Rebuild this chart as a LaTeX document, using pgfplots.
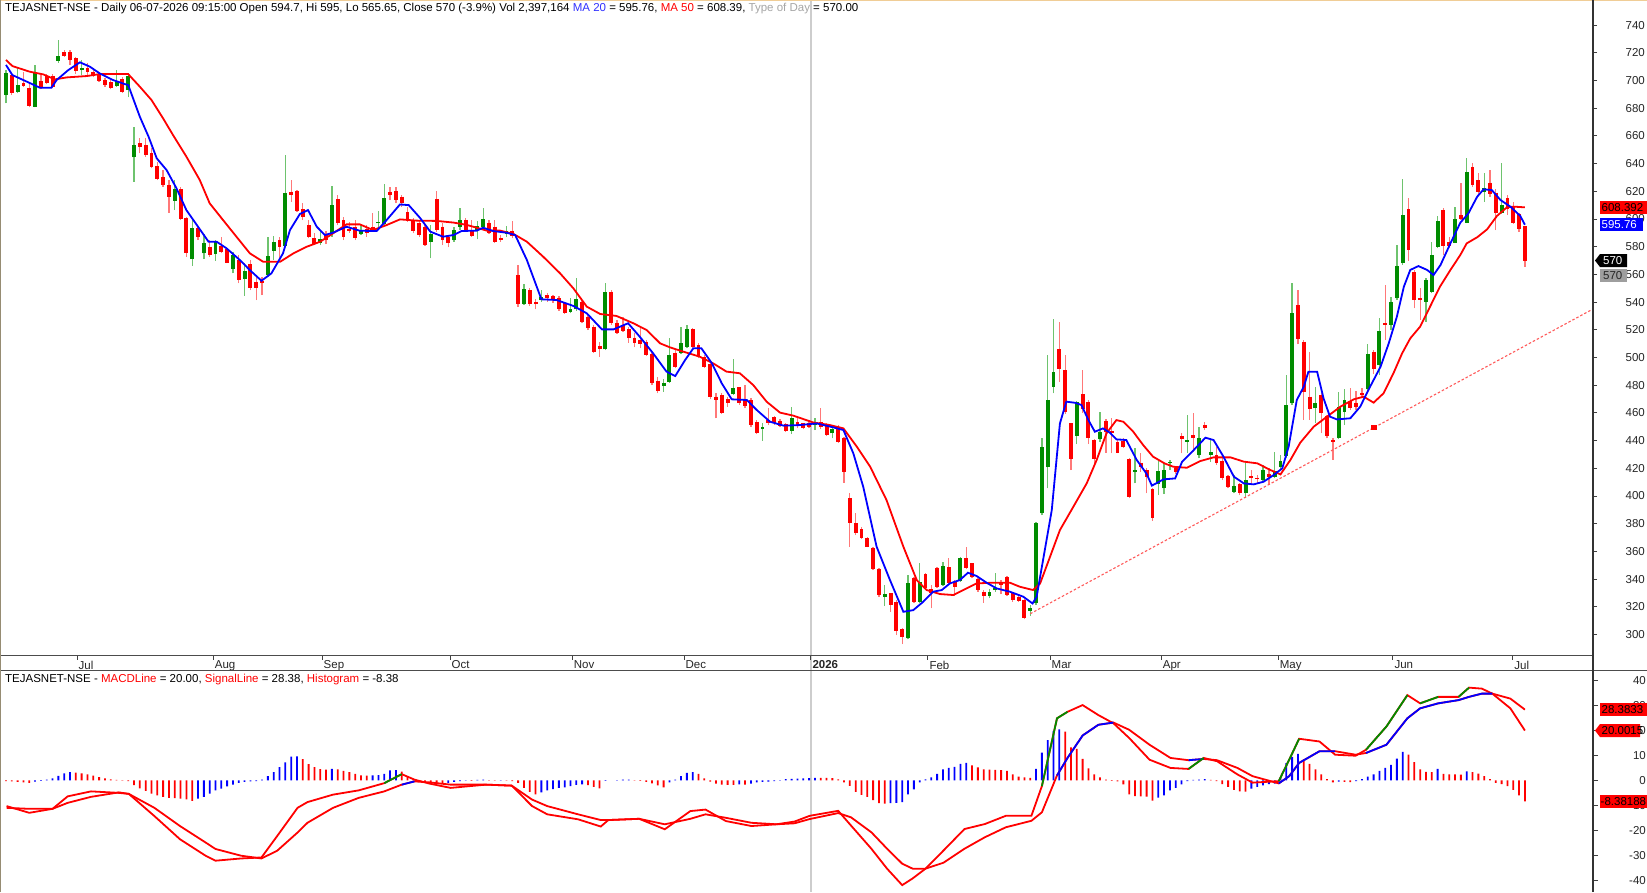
\documentclass[border=0pt]{standalone}
\usepackage{fontspec}
\setmainfont{Liberation Sans}
\usepackage{pgfplots}
\usepackage{pgfplotstable}
\pgfplotsset{compat=1.18}

\definecolor{cgreen}{RGB}{0,140,0}
\definecolor{cred}{RGB}{255,0,0}
\definecolor{wgreen}{RGB}{110,195,110}
\definecolor{wred}{RGB}{255,120,120}
\definecolor{mablue}{RGB}{0,0,255}
\definecolor{tblue}{RGB}{50,50,255}
\definecolor{frameL}{RGB}{150,140,115}
\definecolor{frameT}{RGB}{240,205,150}
\definecolor{sepgray}{RGB}{205,205,205}
\definecolor{trend}{RGB}{255,90,90}

\newcommand\tfont{\fontsize{11.5}{12}\selectfont}

\pgfplotsset{
  base/.style={scale only axis, width=1593pt, xmin=-1.03, xmax=272.7,
    axis line style={draw=none}, tick align=outside, major tick length=5pt,
    tick style={black!75, line width=0.8pt},
    ytick pos=right, yticklabel pos=right,
    yticklabel style={anchor=east, inner sep=0pt, xshift=48pt, font=\tfont, text=black!85},
    /pgf/number format/assume math mode=true, scaled y ticks=false,
    clip mode=individual},
}

\pgfplotstableread{
i o h l c g
0 689.5 707.5 683.5 705.1 1
1 704.0 705.0 689.5 690.7 0
2 692.0 710.0 690.7 696.7 1
3 698.4 706.3 695.5 696.2 0
4 694.8 698.0 680.5 681.5 0
5 681.0 711.0 680.5 705.8 1
6 699.6 704.0 693.6 694.8 0
7 703.4 705.0 697.2 698.4 0
8 703.4 705.0 694.3 695.0 0
9 714.3 729.0 712.8 717.6 1
10 720.3 722.0 717.0 717.6 0
11 720.3 722.0 711.0 714.8 0
12 716.0 717.0 705.0 707.0 0
13 707.5 714.8 704.0 708.7 1
14 708.7 712.3 704.0 706.3 0
15 706.3 708.7 702.7 704.0 0
16 705.0 706.3 699.0 699.8 0
17 700.3 701.5 695.5 696.7 0
18 699.0 700.3 693.6 694.3 0
19 696.0 707.5 695.5 699.8 1
20 700.8 702.7 691.2 691.9 0
21 693.1 705.1 687.8 703.2 1
22 644.5 666.6 626.9 653.4 1
23 654.6 658.7 647.4 651.7 0
24 653.4 658.2 645.0 646.2 0
25 647.4 651.0 636.5 637.7 0
26 638.2 641.3 628.1 628.6 0
27 630.0 635.3 623.3 624.5 0
28 624.5 628.1 604.5 616.1 0
29 613.2 628.1 606.4 621.4 1
30 621.4 623.3 599.2 599.7 0
31 600.9 601.6 572.8 575.2 0
32 571.1 599.2 566.2 593.2 1
33 593.2 594.9 584.8 586.7 0
34 575.2 589.1 571.1 582.9 1
35 580.0 584.8 572.8 574.0 0
36 574.7 584.8 569.9 583.6 1
37 580.4 586.7 575.2 576.4 0
38 578.0 578.8 567.9 568.4 0
39 564.0 576.4 560.7 573.9 1
40 570.3 573.9 553.5 555.9 0
41 556.9 567.9 544.6 562.6 1
42 567.4 570.3 548.7 549.9 0
43 554.7 557.8 541.5 549.9 0
44 555.4 557.8 545.0 554.0 0
45 559.5 587.2 557.8 573.2 1
46 577.1 587.7 570.3 583.6 1
47 584.8 587.2 571.5 579.5 0
48 580.4 646.2 580.0 619.0 1
49 619.7 628.1 612.5 617.3 0
50 620.4 620.9 605.2 606.0 0
51 606.9 611.7 599.2 601.1 0
52 595.6 599.2 586.0 587.2 0
53 586.0 589.6 581.2 581.9 0
54 582.9 592.0 581.2 585.3 1
55 589.1 591.5 581.9 584.8 0
56 589.1 623.8 587.2 610.0 1
57 614.1 617.3 595.6 596.8 0
58 599.2 601.6 584.8 587.2 0
59 592.5 598.0 590.1 591.5 0
60 594.4 599.2 584.8 586.0 0
61 589.1 595.6 588.4 591.5 1
62 592.5 595.6 587.2 589.6 0
63 594.4 604.0 590.8 592.0 0
64 596.8 605.9 594.4 597.6 1
65 596.3 625.2 595.6 614.9 1
66 619.7 623.3 613.7 617.3 0
67 620.4 623.3 611.3 613.7 0
68 616.1 617.3 608.9 611.3 0
69 605.2 608.9 598.0 599.2 0
70 599.2 600.4 589.6 591.2 0
71 596.9 599.3 587.2 588.4 0
72 594.5 595.7 580.5 581.2 0
73 583.6 595.7 571.6 589.2 1
74 614.2 620.5 590.9 592.1 0
75 594.5 596.9 581.2 584.8 0
76 586.8 588.4 579.5 582.9 0
77 584.8 594.5 583.6 592.1 1
78 594.5 608.2 592.1 599.3 1
79 599.3 600.5 590.9 591.6 0
80 592.1 599.3 587.2 587.7 0
81 592.1 598.6 585.3 595.0 1
82 594.0 607.7 593.3 599.8 1
83 597.4 599.3 589.2 590.1 0
84 594.5 599.3 582.9 583.6 0
85 586.3 588.4 583.6 584.8 0
86 589.2 594.9 586.8 591.3 1
87 591.6 598.6 586.0 587.7 0
88 559.6 566.8 536.7 538.6 0
89 538.6 552.8 537.9 549.2 1
90 548.7 549.9 537.2 538.4 0
91 540.3 542.0 534.8 538.4 0
92 541.5 548.7 540.3 543.4 1
93 545.1 546.3 540.3 542.7 0
94 544.4 545.1 539.6 542.0 0
95 542.7 544.4 533.8 534.8 0
96 539.1 540.3 531.4 531.9 0
97 533.1 542.7 531.9 535.3 1
98 534.8 557.1 533.8 542.0 1
99 540.3 541.5 524.7 525.9 0
100 529.5 530.7 519.8 521.0 0
101 522.3 523.5 503.5 504.2 0
102 508.3 511.4 500.6 505.9 0
103 505.9 554.0 505.4 547.5 1
104 547.5 548.7 523.5 524.7 0
105 525.1 527.1 517.0 517.4 0
106 523.5 529.5 518.6 519.4 0
107 520.3 522.3 510.7 513.8 0
108 514.3 517.4 507.3 510.7 0
109 512.6 522.3 506.6 509.7 0
110 511.4 512.6 501.1 501.8 0
111 502.5 504.2 480.1 481.3 0
112 483.3 486.1 474.1 476.0 0
113 479.4 484.2 475.3 481.3 1
114 482.5 513.8 481.8 501.8 1
115 503.5 505.9 492.2 493.4 0
116 503.5 521.8 502.5 510.2 1
117 507.8 523.5 506.6 520.3 1
118 520.3 521.1 506.6 507.8 0
119 509.0 510.2 499.4 500.6 0
120 500.6 501.8 492.2 493.4 0
121 495.3 498.2 469.8 471.2 0
122 471.7 474.1 456.1 469.3 0
123 472.9 474.1 459.2 460.2 0
124 469.8 471.2 464.5 467.4 0
125 473.4 498.7 472.9 477.7 1
126 478.4 478.9 465.7 466.9 0
127 469.3 480.1 463.3 465.0 0
128 469.3 470.5 450.0 451.2 0
129 453.6 454.8 444.7 445.7 0
130 448.1 452.4 440.0 450.0 1
131 454.9 463.3 451.2 452.4 0
132 456.8 457.8 451.2 452.9 0
133 454.1 455.3 449.6 450.8 0
134 451.7 452.4 446.4 447.1 0
135 447.1 464.0 444.7 456.1 1
136 453.6 456.1 448.8 450.8 0
137 452.4 452.9 448.1 448.8 0
138 452.4 454.8 448.8 450.0 0
139 451.2 456.1 447.6 453.6 1
140 453.1 463.3 448.1 449.5 0
141 451.2 452.4 443.3 444.0 0
142 445.2 451.2 441.6 448.1 1
143 450.0 451.2 438.5 439.2 0
144 441.6 442.8 409.6 417.5 0
145 398.3 401.9 363.4 380.2 0
146 380.2 387.4 371.8 373.0 0
147 375.9 377.3 368.7 369.4 0
148 369.4 370.6 362.9 363.4 0
149 362.2 363.4 346.5 347.0 0
150 347.0 347.7 327.3 328.5 0
151 327.3 335.7 320.5 329.2 1
152 329.7 330.1 316.4 321.2 0
153 323.6 324.8 299.6 302.7 0
154 303.7 304.4 293.1 298.4 0
155 297.2 342.9 296.5 337.4 1
156 340.5 341.7 322.9 323.6 0
157 323.6 351.8 322.4 338.1 1
158 343.6 344.1 332.1 333.3 0
159 332.5 336.0 318.8 330.0 0
160 348.2 348.9 333.8 334.5 0
161 335.7 352.5 335.0 349.4 1
162 348.4 354.9 336.4 337.4 0
163 338.1 339.3 327.7 334.5 0
164 338.6 356.1 338.1 355.4 1
165 355.4 363.4 347.0 347.7 0
166 351.3 351.8 340.5 341.2 0
167 339.8 340.5 330.9 332.1 0
168 330.9 332.1 322.9 327.7 0
169 327.7 332.6 326.0 330.9 1
170 332.1 344.6 330.9 333.4 1
171 337.4 339.3 329.2 335.7 0
172 341.2 342.2 327.7 328.5 0
173 330.1 330.9 323.6 324.8 0
174 327.3 328.5 323.6 324.4 0
175 324.8 325.3 310.9 311.6 0
176 317.1 321.2 313.3 318.8 1
177 322.4 381.4 321.2 380.7 1
178 387.4 441.6 386.2 435.1 1
179 420.7 501.8 405.5 469.3 1
180 478.9 527.5 474.1 489.7 1
181 505.9 525.8 482.5 491.4 0
182 490.9 501.8 459.2 460.8 0
183 452.4 452.9 418.7 426.4 0
184 443.3 468.8 437.5 468.1 1
185 473.6 490.9 460.1 462.5 0
186 468.1 469.3 437.5 441.6 0
187 440.4 440.9 421.6 426.4 0
188 440.9 460.8 439.2 446.4 1
189 454.3 455.3 431.2 446.4 0
190 447.1 456.0 430.8 445.7 0
191 439.2 440.4 430.8 431.2 0
192 439.9 441.6 434.4 435.1 0
193 426.4 427.1 398.3 399.5 0
194 417.5 434.4 409.1 418.7 1
195 424.0 431.2 417.5 421.1 0
196 418.7 420.0 401.9 413.9 0
197 404.8 405.5 382.1 383.8 0
198 408.6 426.0 400.7 418.3 1
199 405.5 423.5 401.4 418.7 1
200 423.7 426.0 418.7 424.7 1
201 420.4 421.5 416.0 417.5 0
202 443.3 445.2 430.8 440.9 0
203 439.2 458.5 430.8 440.2 1
204 444.0 459.7 432.0 442.1 0
205 429.6 450.0 427.2 441.6 1
206 451.0 453.7 447.6 448.8 0
207 429.6 441.6 424.8 432.0 1
208 429.6 435.6 422.4 424.0 0
209 425.5 427.2 411.5 412.7 0
210 414.4 415.1 405.5 406.7 0
211 403.1 415.1 401.9 407.2 1
212 408.6 409.6 400.7 402.4 0
213 401.9 423.6 398.3 411.5 1
214 414.4 418.7 409.1 412.7 0
215 413.2 415.1 409.6 412.0 0
216 411.5 422.4 410.3 418.7 1
217 415.6 419.9 408.0 413.5 0
218 414.0 432.0 412.7 418.0 1
219 420.7 429.6 418.7 425.5 1
220 428.8 487.4 427.2 465.7 1
221 466.9 553.5 465.7 531.9 1
222 537.9 548.7 509.7 513.1 0
223 511.4 512.6 454.9 475.3 0
224 471.7 504.2 454.9 462.5 0
225 463.3 478.9 452.4 467.4 1
226 472.9 474.1 445.2 459.7 0
227 457.8 458.5 441.6 443.3 0
228 440.4 441.6 426.0 439.2 0
229 441.6 475.3 440.9 464.5 1
230 460.9 477.0 451.2 469.3 1
231 468.8 477.7 462.0 463.3 0
232 467.4 476.0 462.0 464.5 0
233 474.1 477.7 470.5 472.9 0
234 477.0 509.7 476.0 502.5 1
235 504.2 505.4 488.0 491.4 0
236 494.5 528.3 487.3 519.4 1
237 524.7 552.3 512.6 523.6 0
238 523.5 543.9 519.8 540.3 1
239 542.7 581.2 541.5 566.0 1
240 568.0 628.6 566.8 602.9 1
241 607.2 614.9 569.9 577.6 0
242 561.5 563.2 535.5 541.5 0
243 542.7 549.9 527.1 541.5 0
244 540.3 557.1 525.9 555.9 1
245 547.5 583.6 546.3 574.0 1
246 580.0 602.2 578.8 598.8 1
247 606.5 607.7 574.0 580.5 0
248 583.6 587.2 578.8 580.5 0
249 582.9 608.9 582.4 599.8 1
250 602.9 626.2 599.3 599.8 0
251 597.4 643.8 596.9 634.2 1
252 637.3 640.7 623.3 624.5 0
253 628.1 633.0 617.3 619.7 0
254 619.7 633.0 612.5 622.6 1
255 626.2 635.4 616.1 618.0 0
256 619.0 621.4 592.0 604.5 0
257 604.5 640.7 603.6 610.1 1
258 614.9 617.3 602.9 607.0 0
259 608.9 612.5 596.4 597.4 0
260 603.6 604.5 590.8 592.5 0
261 594.7 595.0 565.65 570.0 0
}\candles

\begin{document}
\begin{tikzpicture}[x=1pt,y=1pt]
\useasboundingbox (0,0) rectangle (1647,892);
\fill[white] (0,0) rectangle (1647,892);
% year separator
\draw[sepgray, line width=1.3pt] (811,0) -- (811,892);

% ================= PRICE PANEL =================
\begin{axis}[base, at={(0pt,236.3pt)}, anchor=south west, height=655.7pt,
  ymin=284.7, ymax=758.1, ytick={300,320,...,740},
  xtick={12.2,35.6,54.3,76.3,97.3,116.5,138.3,158.4,179.4,198.5,218.6,238.3,258.9},
  xticklabels={Jul,Aug,Sep,Oct,Nov,Dec,\textbf{2026},Feb,Mar,Apr,May,Jun,Jul},
  xtick pos=left, xticklabel pos=left,
  xticklabel style={anchor=north west, inner sep=0pt, xshift=1.5pt, yshift=-1pt, font=\tfont, text=black!85},
  major tick length=4pt]
% wicks (zero-length arrows for the other colour draw nothing)
\addplot[wgreen, line width=1.3pt, quiver={u=0, v=(\thisrow{h}-\thisrow{l})*\thisrow{g}}] table[x=i, y=l] {\candles};
\addplot[wred, line width=1.3pt, quiver={u=0, v=(\thisrow{h}-\thisrow{l})*(1-\thisrow{g})}] table[x=i, y=l] {\candles};
% bodies
\addplot[cgreen, line width=3.9pt, quiver={u=0, v=(\thisrow{c}-\thisrow{o})*\thisrow{g}}] table[x=i, y=o] {\candles};
\addplot[cred, line width=3.9pt, quiver={u=0, v=(\thisrow{c}-\thisrow{o})*(1-\thisrow{g})}] table[x=i, y=o] {\candles};

% trend line
\addplot[trend, line width=1.1pt, dash pattern=on 2.5pt off 2pt] coordinates {(176,315) (272.7,535)};
\addplot[only marks, mark=square*, mark size=2.2pt, cred] coordinates {(235,449.5)};

% MA 50 (red)
\addplot[cred, line width=1.8pt] coordinates {
(0,714.8)(1.1,710.4)(4.1,706.3)(6.4,704.4)(8.4,700.8)(10.4,702.2)(13.9,703.2)(16.1,704.6)(21,704.6)(23,695.5)(25,685.9)(27,672.6)(28.7,660.6)(31,645)(33.3,628.1)(35,611.3)(37.3,599.2)(39.6,587.2)(41.9,575.2)(44.2,569.1)(47.1,569.1)(49.4,575.2)(51.7,580)(54,583.6)(56.2,589.6)(58.5,596.1)(60.8,596.1)(63.1,592)(65.4,595.6)(67.7,599.7)(70.6,598.8)(74,598.6)(76.9,597.4)(79.2,595.7)(82.6,591.6)(84.9,591.6)(87.2,589.2)(89.5,583.6)(92.3,572.8)(95.2,560.8)(97.5,549.9)(99.8,536.7)(102.1,531.4)(104.9,530)(107.8,524.7)(110.1,519.8)(112.4,510.2)(114.1,507.3)(116.4,504.2)(119.2,500.6)(121.5,495.8)(123.8,489.8)(126.1,488.6)(128.4,480.1)(130.7,468.1)(133,460.2)(135.3,458)(138.7,453.1)(141.6,451.2)(143.9,448.8)(146.2,435.6)(148.5,421.1)(151.3,397.1)(154.2,363.4)(156.5,339.3)(158.2,332.1)(160.5,329.2)(162.8,328.5)(164.5,332.1)(166.8,336.9)(169.6,337.4)(172.5,337.4)(174.2,334.5)(176.5,332.1)(177.7,336.9)(179.4,356.1)(181.1,375.4)(183.4,392.2)(185.7,409.1)(187.4,425.9)(189.1,445.2)(190.8,454.8)(192,453.6)(193.7,446.4)(195.4,436.8)(197.1,428.4)(199.1,423.5)(200.6,421.1)(202.9,420.4)(205.2,425.2)(207.5,427.9)(210.4,427.9)(212.7,424.8)(215,423.6)(217.3,418.7)(219,415.6)(220.7,426)(222.4,438.5)(224.7,450)(227,457.3)(229.3,464.5)(231.6,469.8)(233.3,471.7)(235,467.4)(236.7,474.1)(238.4,488.5)(239.9,503)(241.3,513.8)(243,522.3)(244.7,536.7)(246.4,551.1)(248.2,563.2)(249.9,574)(251,582.4)(252.8,586.8)(254.5,592.5)(256.2,602.2)(257.9,608.4)(259.1,608.9)(261,608.4)};
% MA 20 (blue)
\addplot[mablue, line width=1.8pt] coordinates {
(0,711.2)(1.1,703.9)(3.6,699.1)(5.8,694.8)(7.8,694.8)(8.7,700.3)(10.7,707.5)(12.7,713.1)(14.4,710)(16.1,705.1)(18.4,700.3)(20.4,697.4)(21,696.7)(23,673.8)(24.5,659.4)(25.9,643.8)(27.6,635.3)(29.3,622.1)(31,606.4)(33,594.4)(34.8,583.6)(36.2,583.6)(37.9,578.8)(40.2,570.3)(41.9,563.1)(43.9,555.4)(45.6,560.7)(47.6,575.2)(48.8,592)(50.5,603.6)(51.9,606.4)(53.4,594.4)(54.8,588.4)(56.2,590.1)(58.5,594.4)(60.8,591.5)(63.7,591.3)(65.4,599.2)(67.7,610.5)(69.2,610)(71.1,601)(72.9,590.9)(75.1,587.2)(76.9,588.4)(78.3,591.3)(80.9,591.6)(82,593.7)(83.7,591.3)(86,590.1)(87.5,588.4)(89.5,570.4)(92,542)(94.6,541.5)(97.5,537.2)(99.8,531.9)(102.4,520.3)(104.4,520.3)(106.9,524.7)(108.9,515)(111.2,503)(113.5,489.8)(115,486.6)(116.7,498.2)(118.1,506.6)(119.5,506.6)(121.3,495.8)(123,481.3)(124.7,469.8)(127.3,469.3)(129,462.1)(131.3,453.6)(133.6,450.8)(136.4,451.2)(139.3,452.4)(142.2,449.5)(143.9,447.6)(145.6,430.8)(147.3,406.7)(149.6,363.4)(151.9,339.3)(154.2,316.4)(155.9,317.6)(157.6,323.6)(159.3,330.9)(160.8,332.1)(162.2,336.9)(163.9,339.3)(165.3,344.6)(166.8,342.2)(168.5,337.4)(170.2,333.3)(172.5,330.9)(174.8,327.3)(176.4,322.4)(177.1,327.3)(178.2,353.7)(179.7,389.8)(181.1,452.4)(182.2,468.1)(183.7,467.3)(184.8,465.7)(186,454.8)(187.1,446.4)(188.5,448.8)(189.7,445.7)(190.8,440.9)(192.5,440.4)(194.3,426)(196,416)(196.9,407.5)(198.9,412)(200.9,412.7)(202.1,424.8)(204.1,433.2)(206.1,442.1)(207.5,440.4)(209.2,428.4)(211,413.9)(212.7,409.1)(214.4,408.4)(216.1,410.3)(217.8,415.1)(219.3,419.9)(220.4,435.6)(221.8,469.3)(223,478.9)(223.8,489.7)(225.3,489.7)(226.4,470.5)(227.5,457.3)(228.7,455.3)(231,456.1)(232.7,464.5)(234.1,476.5)(236.2,493.4)(237.6,510.2)(239,529.5)(240.2,551.1)(241.3,563.2)(242.7,566)(244.2,563.2)(245.3,559.5)(246.5,566.8)(248.2,582.4)(249.9,597.3)(251.3,604.1)(252.8,616.1)(253.9,621.4)(255.3,620.9)(256.8,613.7)(258.5,608.9)(260.2,602.2)(261,595.8)};

\coordinate (pA) at (axis cs:272.7,608.39);
\coordinate (pB) at (axis cs:272.7,595.76);
\coordinate (pC) at (axis cs:272.7,570);
\coordinate (pD) at (axis cs:272.7,559.4);
\end{axis}

% ================= MACD PANEL =================
\begin{axis}[base, at={(0pt,0pt)}, anchor=south west, height=221.3pt,
  ymin=-44.75, ymax=43.99, ytick={-40,-30,...,40}, xtick=\empty]
\addplot[ybar, bar width=1.8pt, bar shift=0pt, fill=mablue, draw=none] coordinates {
(5,-0.5)(6,-0.2)(7,0.3)(8,0.8)(9,1.8)(10,2.8)(11,3.3)(33,-7.3)(34,-6.6)(35,-5.3)(36,-4)(37,-3.3)(38,-2.4)(39,-1.7)(40,-1)(41,-0.6)(42,-0.4)(43,-0.3)(44,0.3)(45,1.7)(46,3.3)(47,5.3)(48,7.2)(49,9.5)(50,9.6)(56,4.6)(63,2.0)(64,2.1)(65,2.6)(66,4.0)(67,4.1)(76,-1.0)(77,-0.6)(78,-0.3)(79,-0.1)(81,0.2)(82,0.3)(85,0.1)(92,-4.8)(93,-4.0)(94,-3.5)(95,-3.0)(96,-2.8)(97,-2.3)(98,-1.8)(99,-1.6)(103,-0.2)(105,0.1)(106,0.3)(107,0.3)(114,-0.8)(115,0.3)(116,1.7)(117,3.0)(118,3.3)(126,-1.6)(128,-1.3)(129,-0.8)(130,-0.6)(131,-0.5)(132,-0.3)(133,0.1)(134,0.5)(135,0.6)(136,0.7)(137,0.8)(138,0.9)(139,1.0)(152,-9.1)(153,-9.0)(154,-8.7)(155,-5.6)(156,-3.6)(157,-0.8)(158,0.4)(159,1.2)(160,2.6)(161,4.4)(162,5.0)(163,5.4)(164,6.6)(165,7.0)(177,4.6)(178,11.1)(179,16.2)(180,19.9)(181,20.5)(198,-6.9)(199,-6.0)(200,-4.0)(201,-3.0)(202,-1.6)(203,-0.3)(204,0.2)(205,0.3)(206,0.5)(214,-3.3)(215,-2.6)(216,-2.0)(217,-1.5)(218,-1.3)(219,1.2)(220,6.9)(221,9.4)(222,10.6)(229,-0.5)(232,-0.3)(233,0.5)(234,1.5)(235,2.4)(236,3.8)(237,5.0)(238,6.2)(239,8.7)(240,11.4)(246,4.6)(251,3.6)};
\addplot[ybar, bar width=1.8pt, bar shift=0pt, fill=cred, draw=none] coordinates {
(0,-0.3)(1,-0.4)(2,-0.6)(3,-0.8)(4,-1.0)(12,3.1)(13,2.8)(14,2.4)(15,1.9)(16,1.3)(17,0.8)(18,0.4)(19,0.2)(20,0.1)(21,-0.3)(22,-1.9)(23,-3.2)(24,-4.2)(25,-5.3)(26,-6.0)(27,-6.6)(28,-7.0)(29,-7.1)(30,-7.3)(31,-7.6)(32,-8.2)(51,8.5)(52,6.5)(53,5.3)(54,4.5)(55,4.3)(57,4.4)(58,3.8)(59,3.3)(60,2.6)(61,2.0)(62,1.9)(68,3.5)(69,1.5)(70,0.3)(71,-0.5)(72,-0.6)(73,-0.8)(74,-1.0)(75,-1.3)(80,-0.2)(83,0.1)(84,-0.1)(86,-0.1)(87,-0.3)(88,-1.0)(89,-3.0)(90,-4.6)(91,-5.6)(100,-1.9)(101,-2.6)(102,-3.2)(108,0.1)(109,-0.2)(110,-0.6)(111,-1.2)(112,-2.0)(113,-2.8)(119,2.6)(120,0.8)(121,-0.5)(122,-1.3)(123,-1.7)(124,-1.75)(125,-1.8)(127,-1.7)(140,1.0)(141,1.0)(142,0.9)(143,0.4)(144,-0.8)(145,-2.2)(146,-4.6)(147,-5.8)(148,-6.6)(149,-7.9)(150,-9.1)(151,-9.3)(166,6.0)(167,5.2)(168,4.4)(169,4.3)(170,4.2)(171,4.1)(172,3.8)(173,2.4)(174,1.5)(175,1.2)(176,1.0)(182,19.6)(183,13.2)(184,12.6)(185,8.6)(186,4.8)(187,2.4)(188,1.2)(189,0.3)(190,-0.2)(191,-0.4)(192,-1.6)(193,-5.6)(194,-6.3)(195,-6.4)(196,-6.5)(197,-8.1)(207,0.2)(208,-0.3)(209,-1.5)(210,-2.6)(211,-3.8)(212,-4.4)(213,-4.5)(223,8.4)(224,6.6)(225,4.4)(226,2.4)(227,0.5)(228,-0.8)(230,-0.6)(231,-0.7)(241,10.3)(242,7.3)(243,4.4)(244,3.4)(245,3.3)(247,2.6)(248,2.4)(249,2.4)(250,2.3)(252,3.3)(253,2.7)(254,1.7)(255,0.5)(256,-1.0)(257,-1.5)(258,-2.3)(259,-3.8)(260,-6.0)(261,-8.4)};
% signal line
\addplot[cred, line width=1.8pt] coordinates {
(0.1,-11)(4,-11.4)(8,-11.4)(10.6,-9)(14.6,-6.6)(19.4,-4.8)(21.1,-5.4)(25.5,-11)(29.9,-18.3)(34.3,-24.9)(36,-27.5)(40.4,-30.2)(43.9,-31.3)(46.6,-28.2)(50.1,-20.9)(51.8,-17)(56.2,-11)(60.6,-7)(65,-4.4)(68,-1.7)(70.2,-0.4)(72.8,-0.8)(76.4,-1.7)(82.5,-1.7)(86.9,-2.1)(90.4,-7.7)(93,-10.3)(98.3,-13.6)(102.2,-15.9)(103.5,-15.9)(108.8,-15.4)(113.2,-17.6)(117.6,-15.4)(120.2,-13.6)(123.7,-15)(128.1,-17)(132.4,-17.6)(135.5,-17.2)(138.1,-15.5)(143,-13.1)(145.2,-14.8)(148.7,-20.8)(151.4,-27.4)(154,-33.4)(155.8,-35.4)(158,-35.4)(161.1,-33)(164.7,-27.4)(168.2,-22.8)(171.8,-18.8)(176.2,-16.2)(178,-12.8)(180.6,2)(182.4,9)(185,18)(187.7,22.3)(190.3,23.2)(193,20.3)(196.5,14.3)(200.1,9)(203.2,8.1)(205.8,8.6)(208.1,8.1)(211.6,5)(214.2,1.7)(218.7,-1.2)(220.5,1.7)(222.2,7)(225.7,11.7)(228.4,11.7)(231.9,10.3)(233.7,11)(237.2,14.3)(240.8,24.9)(243,28.9)(246.1,30.9)(249.6,32.2)(251.4,33.5)(253.6,34.8)(255.4,34.8)(258.5,32.8)(261,28.38)};
% MACD line
\addplot[cred, line width=1.8pt] coordinates {
(0.1,-10.3)(4,-13)(8,-11.4)(10.6,-6.4)(14.6,-4.4)(19.4,-5)(21.1,-5.4)(25.5,-14.3)(29.9,-23.6)(34.3,-30.2)(36,-32.2)(40.4,-31.3)(43.9,-30.9)(46.6,-22.3)(50.1,-11)(51.8,-8.7)(56.2,-5.7)(60.6,-4)(65,-1.1)(68,2.5)(70.2,0.3)(72.8,-1.3)(76.4,-3)(82.5,-1.7)(86.9,-2.1)(90.4,-10.3)(93,-13.6)(98.3,-15.6)(102.2,-18.5)(103.5,-15.9)(108.8,-15.4)(113.2,-19.6)(117.6,-12.3)(120.2,-11.7)(123.7,-16.3)(128.1,-18.3)(132.4,-17.6)(135.5,-16.5)(138.1,-14.2)(143,-12.2)(145.2,-18.1)(148.7,-27.4)(151.4,-35.4)(154,-42)(155.8,-39.3)(158,-35.4)(161.1,-28.1)(164.7,-19.5)(168.2,-17.5)(171.8,-14.2)(176.2,-14.2)(178,-2.3)(180.6,24.9)(182.4,27.5)(185,30.2)(187.7,26.2)(190.3,22.9)(193,17)(196.5,8.3)(200.1,5)(203.2,4.6)(205.8,9)(208.1,7.7)(211.6,2.4)(214.2,-0.9)(218.7,-0.3)(220.5,8.3)(222.2,16.7)(225.7,15.6)(228.4,10.3)(231.9,9.9)(233.7,12.3)(237.2,21.6)(240.8,34.2)(243,30.9)(246.1,33.5)(249.6,33.5)(251.4,37.2)(253.6,36.8)(255.4,34.8)(258.5,28.9)(261,20)};
% coloured segments
\addplot[mablue, line width=1.8pt] coordinates {(68,-1.7)(70.2,-0.4)};
\addplot[mablue, line width=1.8pt] coordinates {(180.6,2)(182.4,9)(185,18)(187.7,22.3)(190.3,23.2)};
\addplot[mablue, line width=1.8pt] coordinates {(203.2,8.1)(205.8,8.6)};
\addplot[mablue, line width=1.8pt] coordinates {(218.7,-1.2)(220.5,1.7)(222.2,7)(225.7,11.7)(228.4,11.7)};
\addplot[mablue, line width=1.8pt] coordinates {(233.7,11)(237.2,14.3)(240.8,24.9)(243,28.9)(246.1,30.9)(249.6,32.2)(251.4,33.5)(253.6,34.8)(255.4,34.8)};
\addplot[cgreen, line width=1.8pt] coordinates {(65,-1.1)(68,2.5)};
\addplot[cgreen, line width=1.8pt] coordinates {(178,-2.3)(180.6,24.9)(182.4,27.5)};
\addplot[cgreen, line width=1.8pt] coordinates {(203.2,4.6)(205.8,9)};
\addplot[cgreen, line width=1.8pt] coordinates {(218.7,-0.3)(220.5,8.3)(222.2,16.7)};
\addplot[cgreen, line width=1.8pt] coordinates {(233.7,12.3)(237.2,21.6)(240.8,34.2)};
\addplot[cgreen, line width=1.8pt] coordinates {(243,30.9)(246.1,33.5)};
\addplot[cgreen, line width=1.8pt] coordinates {(249.6,33.5)(251.4,37.2)};

\coordinate (mA) at (axis cs:272.7,28.38);
\coordinate (mB) at (axis cs:272.7,20);
\coordinate (mC) at (axis cs:272.7,-8.38);
\end{axis}

% right value labels (drawn in picture space)
\fill[cred] ([shift={(7,-6.5)}]pA) rectangle ++(47,13);
\node[anchor=west, inner sep=0pt, font=\tfont, text=black] at ([xshift=8.5pt]pA) {608.392};
\fill[mablue] ([shift={(7,-6.5)}]pB) rectangle ++(43,13);
\node[anchor=west, inner sep=0pt, font=\tfont, text=white] at ([xshift=8.5pt]pB) {595.76};
\fill[black] ([xshift=2pt]pC) -- ++(5,6.5) -- ++(27,0) -- ++(0,-13) -- ++(-27,0) -- cycle;
\node[anchor=west, inner sep=0pt, font=\tfont, text=white] at ([xshift=10pt]pC) {570};
\fill[black!38] ([shift={(7,-6.5)}]pD) rectangle ++(27,13);
\node[anchor=west, inner sep=0pt, font=\tfont, text=black!85] at ([xshift=10pt]pD) {570};

\fill[cred] ([shift={(7,-6.5)}]mA) rectangle ++(47,13);
\node[anchor=west, inner sep=0pt, font=\tfont, text=black] at ([xshift=8.5pt]mA) {28.3833};
\fill[cred] ([xshift=2pt]mB) -- ++(5,6.5) -- ++(40,0) -- ++(0,-13) -- ++(-40,0) -- cycle;
\node[anchor=west, inner sep=0pt, font=\tfont, text=black] at ([xshift=8.5pt]mB) {20.0015};
\fill[cred] ([shift={(7,-6.5)}]mC) rectangle ++(47,13);
\node[anchor=west, inner sep=0pt, font=\tfont, text=black] at ([xshift=7.5pt]mC) {-8.38188};

% frame lines
\draw[frameT, line width=1.2pt] (0,891.4) -- (1647,891.4);
\draw[black!70, line width=1pt] (0,236.3) -- (1593,236.3);
\draw[black!70, line width=1pt] (0,221.3) -- (1647,221.3);
\draw[frameL, line width=1.3pt] (0.6,0) -- (0.6,892);
\draw[black!80, line width=1.1pt] (1593,0) -- (1593,892);

% titles
\node[anchor=west, inner sep=0pt, font=\tfont, text=black] at (5,883.5) {TEJASNET-NSE - Daily 06-07-2026 09:15:00 Open 594.7, Hi 595, Lo 565.65, Close 570 (-3.9\%) Vol 2,397,164 {\color{tblue}MA 20} = 595.76, {\color{cred}MA 50} = 608.39, {\color{black!35}Type of Day} = 570.00};
\node[anchor=west, inner sep=0pt, font=\tfont, text=black] at (5,212) {TEJASNET-NSE - {\color{cred}MACDLine} = 20.00, {\color{cred}SignalLine} = 28.38, {\color{cred}Histogram} = -8.38};
\end{tikzpicture}
\end{document}
